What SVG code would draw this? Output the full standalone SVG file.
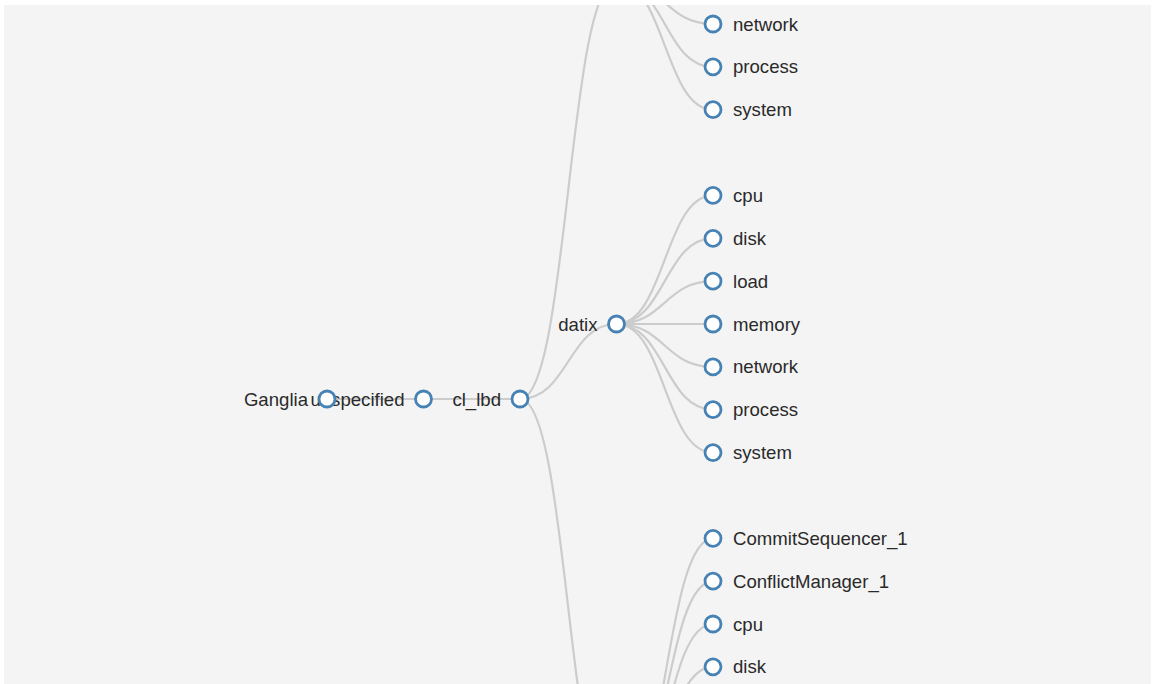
<svg xmlns="http://www.w3.org/2000/svg" width="1163" height="684" viewBox="0 0 1163 684">
  <defs>
    <clipPath id="area"><rect x="4" y="5" width="1147" height="679"/></clipPath>
    <style>
      .link { fill: none; stroke: #cccccc; stroke-width: 2.2; }
      .node circle { fill: #ffffff; stroke: #4682b4; stroke-width: 2.8; }
      .node text { font-family: "Liberation Sans", Arial, sans-serif; font-size: 18.6px; fill: #2a2a2a; }
      .inner { text-anchor: end; }
      .leaf { text-anchor: start; }
    </style>
  </defs>
  <rect x="0" y="0" width="1163" height="684" fill="#ffffff"/>
  <rect x="4" y="5" width="1147" height="679" fill="#f4f4f4"/>
  <g clip-path="url(#area)">
    <g id="connectors">
      <path class="link" d="M327,399 L423.5,399"/>
      <path class="link" d="M423.5,399 L520,399"/>
      <path class="link" d="M520,399 C568.25,399 568.25,-18.9 616.5,-18.9"/>
      <path class="link" d="M520,399 C568.25,399 568.25,324 616.5,324"/>
      <path class="link" d="M520,399 C568.25,399 568.25,816.8 616.5,816.8"/>
      <path class="link" d="M616.5,-18.9 C664.75,-18.9 664.75,24 713,24"/>
      <path class="link" d="M616.5,-18.9 C664.75,-18.9 664.75,66.8 713,66.8"/>
      <path class="link" d="M616.5,-18.9 C664.75,-18.9 664.75,109.7 713,109.7"/>
      <path class="link" d="M616.5,324 C664.75,324 664.75,195.4 713,195.4"/>
      <path class="link" d="M616.5,324 C664.75,324 664.75,238.3 713,238.3"/>
      <path class="link" d="M616.5,324 C664.75,324 664.75,281.2 713,281.2"/>
      <path class="link" d="M616.5,324 C664.75,324 664.75,324 713,324"/>
      <path class="link" d="M616.5,324 C664.75,324 664.75,366.9 713,366.9"/>
      <path class="link" d="M616.5,324 C664.75,324 664.75,409.7 713,409.7"/>
      <path class="link" d="M616.5,324 C664.75,324 664.75,452.6 713,452.6"/>
      <path class="link" d="M616.5,816.8 C664.75,816.8 664.75,538.3 713,538.3"/>
      <path class="link" d="M616.5,816.8 C664.75,816.8 664.75,581.1 713,581.1"/>
      <path class="link" d="M616.5,816.8 C664.75,816.8 664.75,624 713,624"/>
      <path class="link" d="M616.5,816.8 C664.75,816.8 664.75,666.8 713,666.8"/>
    </g>
    <g id="node-unspecified" class="node" transform="translate(423.5,399)">
      <circle r="8"/><text class="inner" x="-19" dy="0.35em">unspecified</text>
    </g>
    <g id="node-root" class="node" transform="translate(327,399)">
      <circle r="8"/><text class="inner" x="-19" dy="0.35em">Ganglia</text>
    </g>
    <g id="node-cl_lbd" class="node" transform="translate(520,399)">
      <circle r="8"/><text class="inner" x="-19" dy="0.35em">cl_lbd</text>
    </g>
    <g id="node-datix" class="node" transform="translate(616.5,324)">
      <circle r="8"/><text class="inner" x="-19" dy="0.35em">datix</text>
    </g>
    <g id="node-top-network" class="node" transform="translate(713,24)">
      <circle r="8"/><text class="leaf" x="20" dy="0.35em">network</text>
    </g>
    <g id="node-top-process" class="node" transform="translate(713,66.8)">
      <circle r="8"/><text class="leaf" x="20" dy="0.35em">process</text>
    </g>
    <g id="node-top-system" class="node" transform="translate(713,109.7)">
      <circle r="8"/><text class="leaf" x="20" dy="0.35em">system</text>
    </g>
    <g id="node-datix-cpu" class="node" transform="translate(713,195.4)">
      <circle r="8"/><text class="leaf" x="20" dy="0.35em">cpu</text>
    </g>
    <g id="node-datix-disk" class="node" transform="translate(713,238.3)">
      <circle r="8"/><text class="leaf" x="20" dy="0.35em">disk</text>
    </g>
    <g id="node-datix-load" class="node" transform="translate(713,281.2)">
      <circle r="8"/><text class="leaf" x="20" dy="0.35em">load</text>
    </g>
    <g id="node-datix-memory" class="node" transform="translate(713,324)">
      <circle r="8"/><text class="leaf" x="20" dy="0.35em">memory</text>
    </g>
    <g id="node-datix-network" class="node" transform="translate(713,366.9)">
      <circle r="8"/><text class="leaf" x="20" dy="0.35em">network</text>
    </g>
    <g id="node-datix-process" class="node" transform="translate(713,409.7)">
      <circle r="8"/><text class="leaf" x="20" dy="0.35em">process</text>
    </g>
    <g id="node-datix-system" class="node" transform="translate(713,452.6)">
      <circle r="8"/><text class="leaf" x="20" dy="0.35em">system</text>
    </g>
    <g id="node-bottom-commitsequencer" class="node" transform="translate(713,538.3)">
      <circle r="8"/><text class="leaf" x="20" dy="0.35em">CommitSequencer_1</text>
    </g>
    <g id="node-bottom-conflictmanager" class="node" transform="translate(713,581.1)">
      <circle r="8"/><text class="leaf" x="20" dy="0.35em">ConflictManager_1</text>
    </g>
    <g id="node-bottom-cpu" class="node" transform="translate(713,624)">
      <circle r="8"/><text class="leaf" x="20" dy="0.35em">cpu</text>
    </g>
    <g id="node-bottom-disk" class="node" transform="translate(713,666.8)">
      <circle r="8"/><text class="leaf" x="20" dy="0.35em">disk</text>
    </g>
  </g>
</svg>
